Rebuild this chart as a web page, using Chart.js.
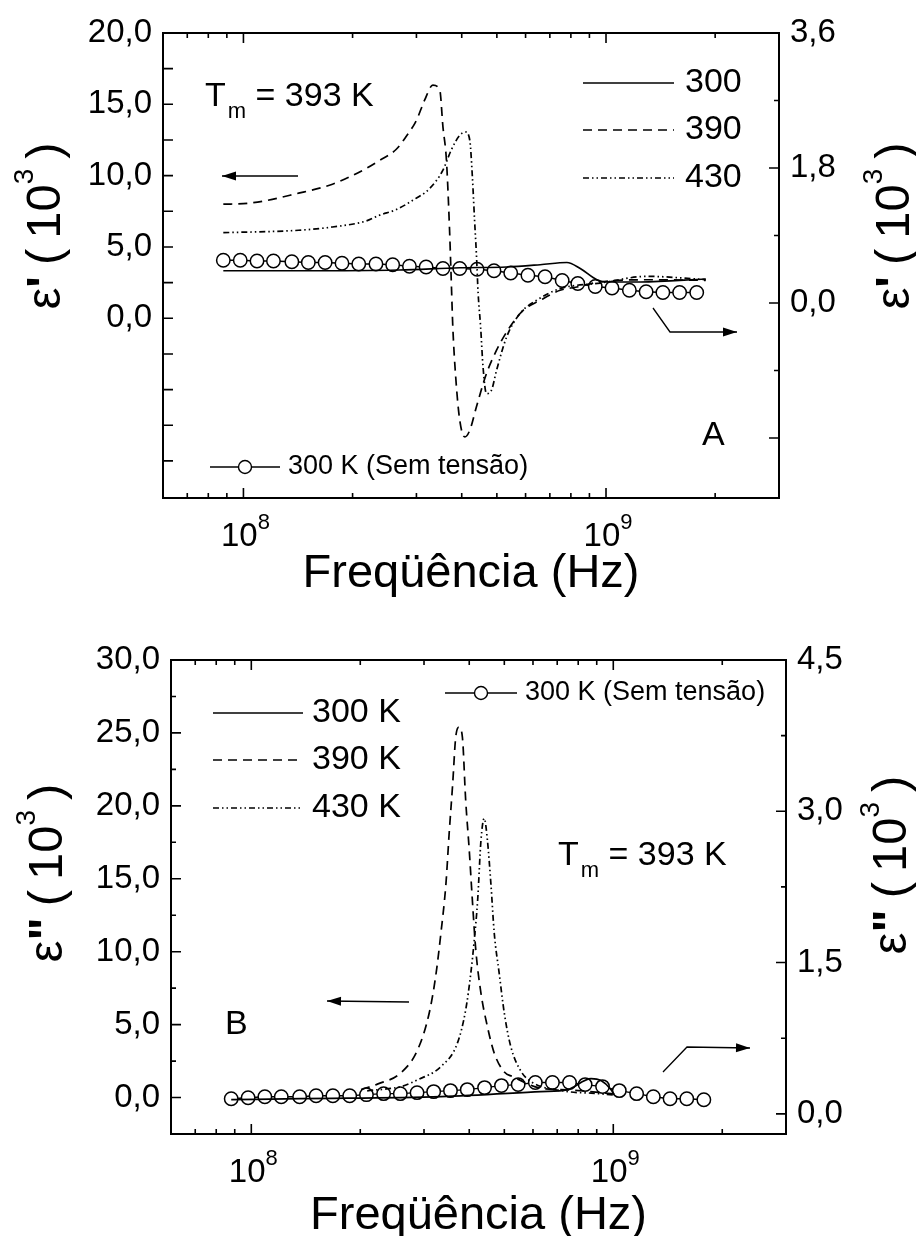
<!DOCTYPE html>
<html>
<head>
<meta charset="utf-8">
<title>Freqüência x permissividade</title>
<script src="https://cdn.jsdelivr.net/npm/chart.js@4.4.1/dist/chart.umd.min.js"></script>
<style>
  body { margin: 0; background: #fff; width: 916px; height: 1236px; overflow: hidden; position: relative; }
  .panel { position: absolute; left: 0; width: 916px; height: 618px; }
</style>
</head>
<body>
<div class="panel" style="top:0"><canvas id="chartA" width="916" height="618"></canvas></div>
<div class="panel" style="top:618px"><canvas id="chartB" width="916" height="618"></canvas></div>

<script>
const FONT = '"Liberation Sans", Arial, Helvetica, sans-serif';

// ---- data: frequencies in MHz, permittivity in units of 10^3 ----

// open circles, 300 K without bias (same frequencies in both panels)
const freqSemTensao = [88, 98, 109, 121, 136, 151, 168, 187, 208, 232, 258, 287, 319, 355, 395,
                       441, 491, 546, 609, 679, 757, 836, 934, 1039, 1160, 1290, 1435, 1596, 1779];
const semTensaoA = [0.57, 0.57, 0.56, 0.56, 0.55, 0.54, 0.54, 0.53, 0.52, 0.52, 0.51, 0.49, 0.48, 0.46, 0.46,
                    0.45, 0.43, 0.40, 0.37, 0.35, 0.30, 0.26, 0.22, 0.20, 0.17, 0.15, 0.14, 0.14, 0.14];
const semTensaoB = [0.15, 0.16, 0.17, 0.17, 0.17, 0.18, 0.18, 0.18, 0.19, 0.20, 0.20, 0.21, 0.22, 0.23, 0.24,
                    0.26, 0.28, 0.29, 0.31, 0.31, 0.31, 0.29, 0.27, 0.23, 0.20, 0.17, 0.15, 0.15, 0.14];

// panel A, eps' : 300 K (right axis), 390 K and 430 K (left axis)
const freq300A = [88, 142, 269, 395, 532, 658, 780, 849, 944, 1006, 1245, 1884];
const eps300A  = [0.43, 0.43, 0.44, 0.47, 0.48, 0.51, 0.54, 0.46, 0.31, 0.28, 0.28, 0.32];

const freq390A = [88, 103, 142, 176, 218, 237, 264, 281, 300, 316, 333, 348, 355, 363, 370, 374,
                  378, 385, 395, 408, 421, 439, 468, 499, 543, 591, 658, 747, 831, 964, 1299, 1884];
const eps390A  = [8.0, 8.06, 8.77, 9.4, 10.5, 11.05, 11.85, 12.74, 13.88, 15.29, 16.34, 15.99, 13.42, 11.08, 6.4, 2.9,
                  -0.61, -4.12, -7.15, -8.32, -7.85, -6.22, -3.88, -2.24, -0.61, 0.56, 1.26, 1.96, 2.19, 2.55, 2.7, 2.66];

const freq430A = [88, 142, 176, 218, 237, 264, 293, 326, 355, 374, 395, 410, 421, 428, 434, 439, 444,
                  451, 458, 468, 483, 499, 532, 579, 644, 747, 964, 1299, 1884];
const eps430A  = [6.0, 6.17, 6.4, 6.82, 7.22, 7.62, 8.27, 9.09, 10.38, 11.78, 12.83, 13.06, 12.48, 9.91, 6.87, 4.54, 1.73,
                  -0.61, -3.42, -5.28, -5.05, -3.65, -1.31, 0.33, 1.26, 2.08, 2.47, 2.94, 2.71];

// panel B, eps'' : 300 K (right axis), 390 K and 430 K (left axis)
const freq300B = [88, 137, 334, 631, 748, 868, 925, 986, 1006];
const eps300B  = [0.14, 0.15, 0.17, 0.22, 0.24, 0.35, 0.33, 0.24, 0.19];

const freq390B = [201, 223, 259, 288, 310, 323, 334, 345, 352, 360, 367, 375, 383, 391, 400, 408,
                  417, 431, 449, 469, 500, 527, 631, 748, 1006];
const eps390B  = [0.55, 0.92, 1.7, 3.27, 5.78, 8.29, 11.26, 14.7, 18.1, 21.5, 24.7, 25.4, 24.7, 20.4, 16.97, 13.54,
                  10.12, 7.15, 4.86, 3.04, 1.75, 1.44, 0.64, 0.53, 0.25];

const freq430B = [209, 259, 276, 288, 334, 371, 391, 404, 413, 422, 431, 440, 449, 459, 469, 484,
                  500, 521, 556, 592, 748, 868, 1006];
const eps430B  = [0.46, 0.75, 1.0, 1.21, 2.12, 3.73, 6.0, 8.52, 10.8, 13.54, 17.65, 19.14, 17.65, 14.68, 11.26, 8.52,
                  5.78, 3.49, 1.8, 1.1, 0.41, 0.3, 0.18];

// ticks
const xTickValues = [7e7, 8e7, 9e7, 1e8, 2e8, 3e8, 4e8, 5e8, 6e8, 7e8, 8e8, 9e8, 1e9, 2e9];
const yTicksA  = [-10, -7.5, -5, -2.5, 0, 2.5, 5, 7.5, 10, 12.5, 15, 17.5, 20];
const y2TicksA = [-1.8, -0.9, 0, 0.9, 1.8, 2.7, 3.6];
const yTicksB  = [0, 2.5, 5, 7.5, 10, 12.5, 15, 17.5, 20, 22.5, 25, 27.5, 30];
const y2TicksB = [0, 0.75, 1.5, 2.25, 3, 3.75, 4.5];

const legendA = ['300', '390', '430'];
const legendB = ['300 K', '390 K', '430 K'];
const semTensaoLabel = '300 K (Sem tensão)';
const tmLabel = ' = 393 K';
const xTitle = 'Freqüência (Hz)';

const DASH = [[], [9, 6], [6, 3, 1.5, 3, 1.5, 3]];

// ---- helpers ----
function pts(freq, vals) {
  return freq.map((f, i) => ({ x: f * 1e6, y: vals[i] }));
}

function curve(freq, vals, dash, axis) {
  return {
    data: pts(freq, vals), yAxisID: axis, borderColor: '#000', borderWidth: 1.7,
    borderDash: dash, pointRadius: 0, cubicInterpolationMode: 'monotone', fill: false, order: 0
  };
}

function circles(freq, vals) {
  return {
    data: pts(freq, vals), yAxisID: 'y2', borderColor: '#000', borderWidth: 1.4,
    pointRadius: 6.7, pointBorderWidth: 1.5, pointBackgroundColor: '#fff',
    pointBorderColor: '#000', tension: 0, fill: false, order: 1
  };
}

function isMult(v, step) {
  const q = v / step;
  return Math.abs(q - Math.round(q)) < 1e-6;
}

function fmt(v) {
  return v.toFixed(1).replace('.', ',');
}

function text(ctx, s, x, y, size, align, base) {
  ctx.font = size + 'px ' + FONT;
  ctx.textAlign = align || 'left';
  ctx.textBaseline = base || 'alphabetic';
  ctx.fillText(s, x, y);
}

function legendLine(ctx, x1, x2, y, dash) {
  ctx.save();
  ctx.lineWidth = 1.7;
  ctx.setLineDash(dash);
  ctx.beginPath();
  ctx.moveTo(x1, y);
  ctx.lineTo(x2, y);
  ctx.stroke();
  ctx.restore();
}

function circleLegend(ctx, x1, x2, y) {
  legendLine(ctx, x1, x2, y, []);
  ctx.beginPath();
  ctx.arc((x1 + x2) / 2, y, 6.5, 0, Math.PI * 2);
  ctx.fillStyle = '#fff';
  ctx.fill();
  ctx.lineWidth = 1.4;
  ctx.stroke();
  ctx.fillStyle = '#000';
  text(ctx, semTensaoLabel, x2 + 8, y, 27, 'left', 'middle');
}

function arrow(ctx, path) {
  ctx.save();
  ctx.lineWidth = 1.3;
  ctx.setLineDash([]);
  ctx.beginPath();
  ctx.moveTo(path[0][0], path[0][1]);
  for (let i = 1; i < path.length; i++) ctx.lineTo(path[i][0], path[i][1]);
  ctx.stroke();
  const [xa, ya] = path[path.length - 2];
  const [xb, yb] = path[path.length - 1];
  const ang = Math.atan2(yb - ya, xb - xa);
  ctx.translate(xb, yb);
  ctx.rotate(ang);
  ctx.beginPath();
  ctx.moveTo(0, 0);
  ctx.lineTo(-14, -4.5);
  ctx.lineTo(-14, 4.5);
  ctx.closePath();
  ctx.fill();
  ctx.restore();
}

function drawTm(ctx, x, y) {
  text(ctx, 'T', x, y, 34);
  let w = ctx.measureText('T').width + 2;
  text(ctx, 'm', x + w, y + 12, 22);
  w += ctx.measureText('m').width;
  text(ctx, tmLabel, x + w, y, 34);
}

// rotated axis title  eps' ( 10^3 )
function yTitle(ctx, xBase, yCenter, prime) {
  const parts = [
    { t: 'ε', f: '49px ' + FONT, dy: 0, gap: 0 },
    { t: prime, f: 'bold 49px ' + FONT, dy: 0, gap: 0 },
    { t: '(', f: '49px ' + FONT, dy: 0, gap: 11 },
    { t: '10', f: '49px ' + FONT, dy: 0, gap: 10 },
    { t: '3', f: '28px ' + FONT, dy: -27, gap: 0 },
    { t: ')', f: '49px ' + FONT, dy: 0, gap: 10 }
  ];
  let total = 0;
  parts.forEach(p => { ctx.font = p.f; p.w = ctx.measureText(p.t).width; total += p.gap + p.w; });
  ctx.save();
  ctx.translate(xBase, yCenter);
  ctx.rotate(-Math.PI / 2);
  ctx.textAlign = 'left';
  ctx.textBaseline = 'alphabetic';
  let x = -total / 2;
  parts.forEach(p => {
    x += p.gap;
    ctx.font = p.f;
    ctx.fillText(p.t, x, p.dy);
    x += p.w;
  });
  ctx.restore();
}

// frame, inward ticks, x labels and all annotations
function panelPlugin(panel) {
  return {
    id: 'panel' + panel.name,
    afterDraw(chart) {
      const { ctx, chartArea: a, scales } = chart;
      ctx.save();
      ctx.strokeStyle = '#000';
      ctx.fillStyle = '#000';
      ctx.lineWidth = 2;
      ctx.strokeRect(a.left, a.top, a.right - a.left, a.bottom - a.top);

      ctx.lineWidth = 1.6;
      ctx.beginPath();
      scales.x.ticks.forEach(t => {
        const p = scales.x.getPixelForValue(t.value);
        const e = Math.log10(t.value);
        const len = Math.abs(e - Math.round(e)) < 1e-9 ? 10 : 5;
        ctx.moveTo(p, a.bottom); ctx.lineTo(p, a.bottom - len);
        ctx.moveTo(p, a.top); ctx.lineTo(p, a.top + len);
      });
      scales.y.ticks.forEach(t => {
        const p = scales.y.getPixelForValue(t.value);
        const len = isMult(t.value, panel.yMajor) ? panel.yLen[0] : panel.yLen[1];
        ctx.moveTo(a.left, p); ctx.lineTo(a.left + len, p);
      });
      scales.y2.ticks.forEach(t => {
        const p = scales.y2.getPixelForValue(t.value);
        const len = isMult(t.value, panel.y2Major) ? panel.y2Len[0] : panel.y2Len[1];
        ctx.moveTo(a.right, p); ctx.lineTo(a.right - len, p);
      });
      ctx.stroke();

      // x tick labels 10^n
      scales.x.ticks.forEach(t => {
        const e = Math.log10(t.value);
        if (Math.abs(e - Math.round(e)) > 1e-9) return;
        const p = scales.x.getPixelForValue(t.value);
        const exp = String(Math.round(e));
        ctx.font = '33px ' + FONT;
        const w1 = ctx.measureText('10').width;
        ctx.font = '22px ' + FONT;
        const w2 = ctx.measureText(exp).width;
        const x0 = p - (w1 + w2) / 2 + 2;
        text(ctx, '10', x0, a.bottom + panel.xLabelDy, 33);
        text(ctx, exp, x0 + w1, a.bottom + panel.xLabelDy - 17, 22);
      });

      text(ctx, xTitle, (a.left + a.right) / 2, panel.xTitleY, 47, 'center');
      yTitle(ctx, panel.yTitle[0], panel.yTitle[1], panel.prime);
      yTitle(ctx, panel.y2Title[0], panel.y2Title[1], panel.prime);

      panel.annotate(ctx);
      ctx.restore();
    }
  };
}

function buildChart(id, panel) {
  const tickFont = { family: FONT, size: 33 };
  return new Chart(document.getElementById(id), {
    type: 'line',
    data: { datasets: panel.datasets },
    options: {
      responsive: false,
      animation: false,
      events: [],
      layout: { padding: { top: panel.top, left: 0, right: 0, bottom: 0 } },
      plugins: { legend: { display: false }, tooltip: { enabled: false } },
      scales: {
        x: {
          type: 'logarithmic', position: 'bottom', min: 6e7, max: 3e9,
          grid: { display: false, drawTicks: false }, border: { display: false },
          ticks: { display: false },
          afterBuildTicks: s => { s.ticks = xTickValues.map(v => ({ value: v })); },
          afterFit: s => { s.height = 618 - panel.bottom; }
        },
        y: {
          type: 'linear', position: 'left', min: panel.yMin, max: panel.yMax,
          grid: { display: false, drawTicks: false }, border: { display: false },
          ticks: {
            color: '#000', font: tickFont, padding: 11, autoSkip: false,
            callback: v => (v >= 0 && isMult(v, panel.yMajor)) ? fmt(v) : ''
          },
          afterBuildTicks: s => { s.ticks = panel.yTicks.map(v => ({ value: v })); },
          afterFit: s => { s.width = panel.left; }
        },
        y2: {
          type: 'linear', position: 'right', min: panel.y2Min, max: panel.y2Max,
          grid: { display: false, drawTicks: false }, border: { display: false },
          ticks: {
            color: '#000', font: tickFont, padding: 11, autoSkip: false,
            callback: v => (v >= 0 && isMult(v, panel.y2Major)) ? fmt(v) : ''
          },
          afterBuildTicks: s => { s.ticks = panel.y2Ticks.map(v => ({ value: v })); },
          afterFit: s => { s.width = 916 - panel.right; }
        }
      }
    },
    plugins: [panelPlugin(panel)]
  });
}

// ---- panel A : eps' ----
const panelA = {
  name: 'A', top: 33, bottom: 498, left: 163, right: 779,
  yMin: -12.6, yMax: 20, yTicks: yTicksA, yMajor: 5, yLen: [10, 10],
  y2Min: -2.6, y2Max: 3.6, y2Ticks: y2TicksA, y2Major: 1.8, y2Len: [10, 5],
  xLabelDy: 48, xTitleY: 587, prime: "'",
  yTitle: [60, 226], y2Title: [909, 226],
  datasets: [
    curve(freq300A, eps300A, DASH[0], 'y2'),
    curve(freq390A, eps390A, DASH[1], 'y'),
    curve(freq430A, eps430A, DASH[2], 'y'),
    circles(freqSemTensao, semTensaoA)
  ],
  annotate(ctx) {
    [83, 130, 178].forEach((y, i) => {
      legendLine(ctx, 583, 674, y, DASH[i]);
      text(ctx, legendA[i], 685, y, 34, 'left', 'middle');
    });
    drawTm(ctx, 205, 106);
    arrow(ctx, [[298, 176], [222, 176]]);
    arrow(ctx, [[653, 308], [670, 332], [737, 332]]);
    text(ctx, 'A', 702, 445, 34);
    circleLegend(ctx, 210, 280, 467);
  }
};

// ---- panel B : eps'' ----
const panelB = {
  name: 'B', top: 42, bottom: 516, left: 171, right: 786,
  yMin: -2.5, yMax: 30, yTicks: yTicksB, yMajor: 5, yLen: [10, 5],
  y2Min: -0.2, y2Max: 4.5, y2Ticks: y2TicksB, y2Major: 1.5, y2Len: [10, 5],
  xLabelDy: 48, xTitleY: 611, prime: '"',
  yTitle: [62, 255], y2Title: [906, 247],
  datasets: [
    curve(freq300B, eps300B, DASH[0], 'y2'),
    curve(freq390B, eps390B, DASH[1], 'y'),
    curve(freq430B, eps430B, DASH[2], 'y'),
    circles(freqSemTensao, semTensaoB)
  ],
  annotate(ctx) {
    [95, 142, 190].forEach((y, i) => {
      legendLine(ctx, 213, 303, y, DASH[i]);
      text(ctx, legendB[i], 312, y, 34, 'left', 'middle');
    });
    circleLegend(ctx, 445, 517, 75);
    drawTm(ctx, 558, 247);
    arrow(ctx, [[409, 384], [327, 383]]);
    arrow(ctx, [[663, 454], [687, 429], [750, 430]]);
    text(ctx, 'B', 225, 416, 34);
  }
};

buildChart('chartA', panelA);
buildChart('chartB', panelB);
</script>
</body>
</html>
